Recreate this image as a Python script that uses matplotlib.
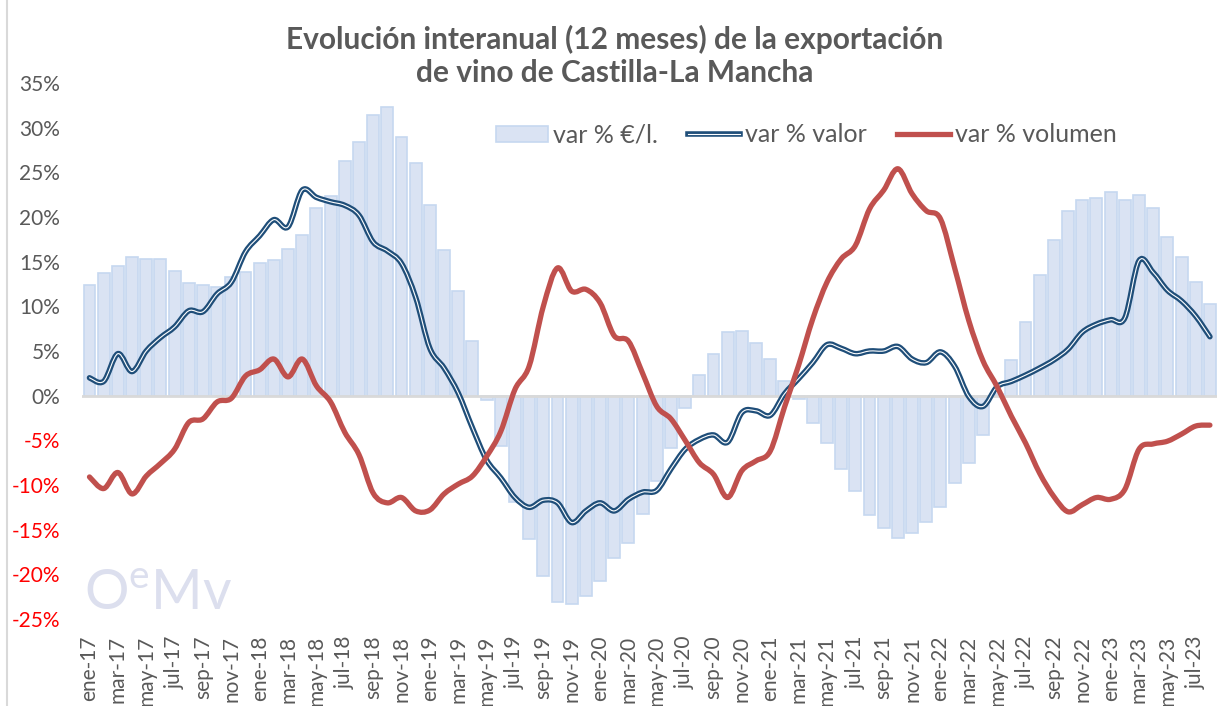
import numpy as np
import matplotlib
matplotlib.use('Agg')
import matplotlib.pyplot as plt
from matplotlib.path import Path
from matplotlib.patches import PathPatch, Patch
from matplotlib.lines import Line2D
import matplotlib.patheffects as pe

plt.rcParams['font.family'] = ['Lato', 'DejaVu Sans']
plt.rcParams['mathtext.fontset'] = 'custom'
plt.rcParams['mathtext.rm'] = 'Lato'

# categorias: ene-17 ... ago-23
meses = ['ene', 'feb', 'mar', 'abr', 'may', 'jun', 'jul', 'ago', 'sep', 'oct', 'nov', 'dic']
fechas = [m + '-' + str(a) for a in range(17, 24) for m in meses][:80]

# var % euro/litro (barras)
var_precio = [12.4, 13.7, 14.5, 15.5, 15.3, 15.3, 14.0, 12.6, 12.4, 12.2, 13.3, 13.8,
              14.8, 15.2, 16.4, 18.0, 21.0, 22.4, 26.3, 28.4, 31.4, 32.3, 29.0, 26.0,
              21.3, 16.35, 11.75, 6.1, -0.5, -5.6, -11.9, -16.1, -20.2, -23.1, -23.3, -22.4,
              -20.7, -18.2, -16.5, -13.3, -9.6, -5.9, -1.4, 2.3, 4.7, 7.1, 7.2, 5.9,
              4.1, 1.6, -0.4, -3.1, -5.3, -8.2, -10.7, -13.4, -14.8, -15.9, -15.4, -14.1,
              -12.5, -9.8, -7.5, -4.4, 0.2, 4.0, 8.3, 13.5, 17.4, 20.7, 21.9, 22.1,
              22.8, 21.9, 22.5, 21.0, 17.8, 15.5, 12.7, 10.3]

# var % valor
var_valor = [2.0, 1.6, 4.7, 2.7, 5.0, 6.5, 7.7, 9.5, 9.4, 11.4, 12.7, 16.1,
             17.9, 19.7, 18.9, 23.0, 22.2, 21.7, 21.3, 20.2, 17.2, 16.2, 14.8, 11.0,
             5.3, 3.1, 0.3, -3.6, -7.2, -9.2, -11.4, -12.5, -11.7, -12.0, -14.2, -12.9,
             -12.0, -12.9, -11.6, -10.8, -10.6, -8.2, -6.0, -4.9, -4.4, -5.2, -1.9, -1.7,
             -2.2, 0.2, 1.9, 3.7, 5.7, 5.3, 4.7, 5.0, 5.0, 5.5, 4.1, 3.7,
             4.9, 3.3, -0.1, -1.2, 1.0, 1.6, 2.3, 3.1, 4.0, 5.2, 7.1, 8.0,
             8.5, 8.7, 15.1, 13.8, 11.8, 10.6, 8.9, 6.6]

# var % volumen
var_volumen = [-9.1, -10.4, -8.6, -11.0, -9.0, -7.6, -6.0, -3.0, -2.6, -0.7, -0.3, 2.2,
               2.9, 4.1, 2.1, 4.1, 1.1, -0.7, -4.1, -6.6, -10.9, -12.0, -11.4, -12.9,
               -12.8, -11.0, -9.9, -9.0, -6.8, -4.0, 0.7, 3.3, 10.0, 14.3, 11.7, 11.9,
               10.4, 6.7, 6.1, 2.5, -1.2, -2.6, -5.0, -7.5, -8.8, -11.4, -8.4, -7.3,
               -6.2, -1.3, 3.4, 8.6, 12.7, 15.3, 16.8, 20.9, 23.0, 25.4, 22.6, 20.7,
               19.8, 14.3, 8.4, 3.9, 1.0, -2.3, -5.3, -8.7, -11.3, -13.0, -12.2, -11.4,
               -11.6, -10.5, -6.0, -5.4, -5.1, -4.3, -3.4, -3.3]

gris = '#595959'
azul = '#1F4E79'
rojo = '#C0504D'


def curva(xs, ys):
    # linea suavizada tipo excel (bezier)
    pts = np.column_stack([xs, ys]).astype(float)
    n = len(pts)
    verts = [pts[0]]
    codes = [Path.MOVETO]
    for i in range(n - 1):
        p0 = pts[i - 1] if i > 0 else pts[i]
        p1 = pts[i]
        p2 = pts[i + 1]
        p3 = pts[i + 2] if i + 2 < n else pts[i + 1]
        verts += [p1 + (p2 - p0) / 6, p2 - (p3 - p1) / 6, p2]
        codes += [Path.CURVE4] * 3
    return Path(verts, codes)


fig = plt.figure(figsize=(12.3, 7.06), dpi=100)
ax = fig.add_axes([82.4 / 1230, 1 - 619 / 706, (1217 - 82.4) / 1230, (619 - 83) / 706])

x = np.arange(len(fechas))
ax.bar(x, var_precio, width=0.84, color='#DAE3F3', edgecolor='#C6D8F0', linewidth=1.2, zorder=2)
ax.axhline(0, color='#D9D9D9', lw=2, zorder=3)

p_valor = PathPatch(curva(x, var_valor), fill=False, edgecolor='white', lw=0.8, zorder=4,
                    capstyle='round', joinstyle='round',
                    path_effects=[pe.Stroke(linewidth=4.0, foreground=azul), pe.Normal()])
ax.add_patch(p_valor)
p_vol = PathPatch(curva(x, var_volumen), fill=False, edgecolor=rojo, lw=3.8, zorder=5,
                  capstyle='round', joinstyle='round')
ax.add_patch(p_vol)

ax.set_xlim(-0.5, len(fechas) - 0.5)
ax.set_ylim(-25, 35)
for s in ax.spines.values():
    s.set_visible(False)

ax.set_xticks(x[::2])
ax.set_xticklabels(fechas[::2], rotation=90, fontsize=15, color=gris)
ticks = np.arange(-25, 36, 5)
ax.set_yticks(ticks)
ax.set_yticklabels([f'{t}%' for t in ticks], fontsize=15)
for t, lab in zip(ticks, ax.get_yticklabels()):
    lab.set_color('#FF0000' if t < 0 else gris)
ax.tick_params(axis='x', length=0, pad=12)
ax.tick_params(axis='y', length=0, pad=16)

fig.text(0.5, 1 - 56 / 706, 'Evolución interanual (12 meses) de la exportación\nde vino de Castilla-La Mancha',
         ha='center', va='center', fontsize=21.5, fontweight='bold', color=gris, linespacing=1.25)

handles = [Patch(facecolor='#DAE3F3', edgecolor='#C6D8F0', lw=1.2),
           Line2D([], [], color='white', lw=0.8,
                  path_effects=[pe.Stroke(linewidth=4.0, foreground=azul), pe.Normal()]),
           Line2D([], [], color=rojo, lw=3.8)]
fig.legend(handles, ['var % €/l.', 'var % valor', 'var % volumen'], loc='center',
           bbox_to_anchor=(806 / 1230, 1 - 135 / 706), ncol=3, frameon=False, fontsize=18,
           handlelength=2.1, handleheight=0.6, handletextpad=0.2, columnspacing=1.2,
           labelcolor=gris)

# borde izquierdo del grafico
fig.add_artist(Line2D([7 / 1230, 7 / 1230], [0, 1], color='#D9D9D9', lw=1.5, transform=fig.transFigure))

# logo OeMv
fig.text(84 / 1230, 1 - 610 / 706, r'O$^{\mathregular{e}}$Mv', fontsize=40, color='#DCDFEE',
         va='baseline')

fig.savefig('out.png', dpi=100)
